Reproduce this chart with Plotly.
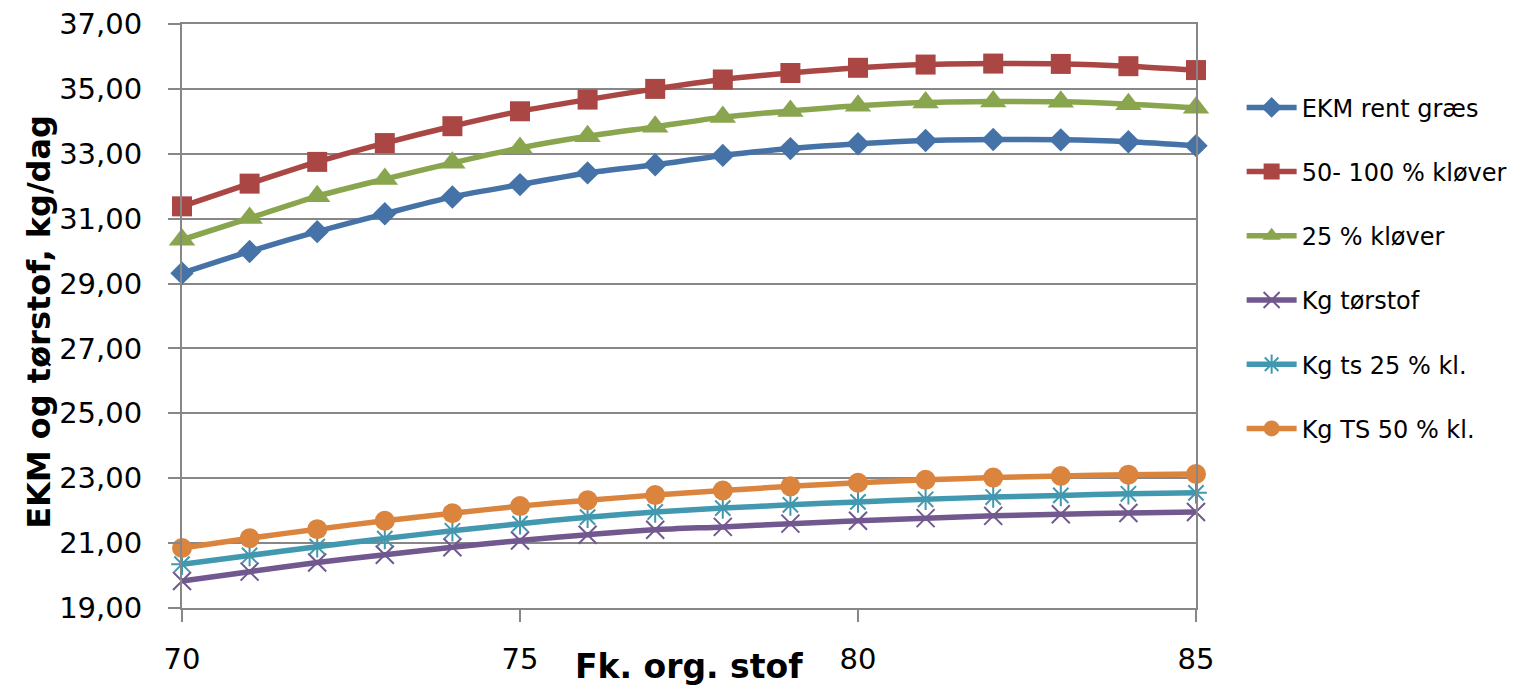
import plotly.graph_objects as go

# Fordøjelighed af organisk stof (x) og beregnede ydelser
fk_org_stof = list(range(70, 86))

ekm_rent_graes = [29.32, 29.99, 30.60, 31.15, 31.67, 32.05, 32.41, 32.66,
                  32.95, 33.16, 33.31, 33.41, 33.44, 33.43, 33.37, 33.25]
klover_50_100 = [31.38, 32.08, 32.75, 33.33, 33.85, 34.31, 34.67, 35.00,
                 35.29, 35.49, 35.65, 35.75, 35.78, 35.77, 35.70, 35.58]
klover_25 = [30.35, 31.02, 31.69, 32.22, 32.72, 33.18, 33.54, 33.83,
             34.13, 34.32, 34.48, 34.58, 34.61, 34.60, 34.53, 34.42]
kg_torstof = [19.83, 20.12, 20.40, 20.64, 20.87, 21.08, 21.26, 21.41,
              21.50, 21.60, 21.69, 21.77, 21.84, 21.89, 21.93, 21.96]
kg_ts_25 = [20.35, 20.62, 20.89, 21.14, 21.38, 21.60, 21.80, 21.96,
            22.08, 22.18, 22.27, 22.35, 22.42, 22.47, 22.52, 22.55]
kg_ts_50 = [20.85, 21.15, 21.43, 21.69, 21.92, 22.14, 22.32, 22.48,
            22.62, 22.75, 22.86, 22.95, 23.02, 23.07, 23.11, 23.13]

series_names = ["EKM rent græs", "50- 100 % kløver", "25 % kløver",
                "Kg tørstof", "Kg ts 25 % kl.", "Kg TS 50 % kl."]
series_values = [ekm_rent_graes, klover_50_100, klover_25,
                 kg_torstof, kg_ts_25, kg_ts_50]

y_ticks = [19, 21, 23, 25, 27, 29, 31, 33, 35, 37]
x_ticks = [70, 75, 80, 85]

colors = ["#4572A7", "#AA4643", "#89A54E", "#71588F", "#4198AF", "#DB843D"]
symbols = ["diamond", "square", "triangle-up", "x-thin-open", "asterisk-open", "circle"]
sizes = [18, 20, 23, 18, 18, 20]

fig = go.Figure()
for i, (name, vals) in enumerate(zip(series_names, series_values)):
    open_sym = symbols[i].endswith("open")
    fig.add_trace(go.Scatter(
        x=fk_org_stof, y=vals, name=name, mode="lines+markers",
        legendgroup=f"g{i}", cliponaxis=False,
        line=dict(color=colors[i], width=5.5, shape="spline", smoothing=0.8),
        marker=dict(symbol=symbols[i], size=sizes[i], color=colors[i],
                    line=dict(color=colors[i], width=2 if open_sym else 0)),
    ))

grid = "#878787"
tick_font = dict(family="DejaVu Sans", size=29, color="#000000")

fig.update_layout(
    width=1525, height=690,
    margin=dict(l=182, r=329, t=24, b=82),
    paper_bgcolor="white", plot_bgcolor="white",
    separators=", ",
    showlegend=True,
    legend=dict(
        x=1.045, xanchor="left", y=0.895, yanchor="top",
        font=dict(family="DejaVu Sans", size=24, color="#000000"),
        tracegroupgap=30, itemwidth=50,
        bgcolor="rgba(0,0,0,0)",
    ),
    xaxis=dict(
        range=[70, 85], tickvals=x_ticks, ticktext=[str(v) for v in x_ticks],
        showgrid=False, zeroline=False, automargin=False,
        showline=True, linecolor=grid, linewidth=2, mirror=True,
        ticks="outside", ticklen=12, tickwidth=2, tickcolor=grid,
        tickfont=tick_font, ticklabelstandoff=12,
    ),
    yaxis=dict(
        range=[19, 37], tickvals=y_ticks, tickformat=".2f",
        showgrid=True, gridcolor=grid, gridwidth=2, zeroline=False,
        automargin=False,
        showline=True, linecolor=grid, linewidth=2, mirror=True,
        ticks="outside", ticklen=12, tickwidth=2, tickcolor=grid,
        tickfont=tick_font, ticklabelstandoff=20,
    ),
    annotations=[
        dict(text="<b>Fk. org. stof</b>", xref="paper", yref="paper",
             x=0.5, y=0, xanchor="center", yanchor="middle", yshift=-58,
             showarrow=False,
             font=dict(family="DejaVu Sans", size=33, color="#000000")),
        dict(text="<b>EKM og tørstof, kg/dag</b>", xref="paper", yref="paper",
             x=0, y=0.49, xanchor="center", yanchor="middle", xshift=-143,
             textangle=-90, showarrow=False,
             font=dict(family="DejaVu Sans", size=32, color="#000000")),
    ],
)

fig.write_html("out.html")
